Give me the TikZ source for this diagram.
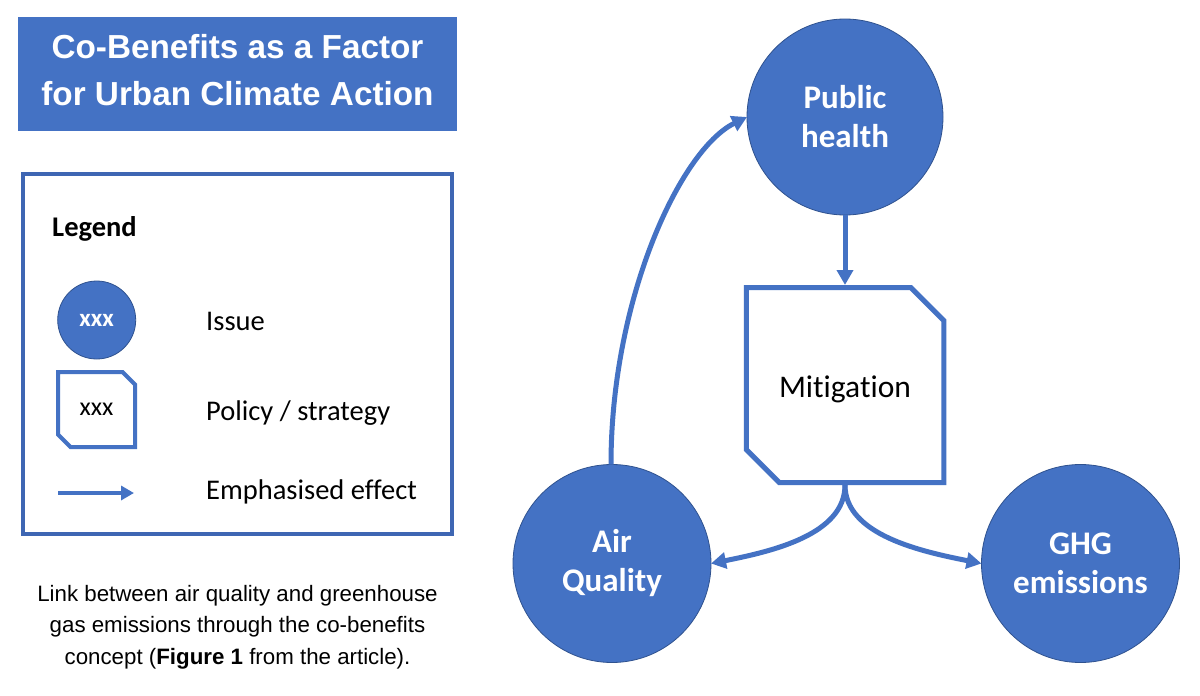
\documentclass[tikz,border=0pt]{standalone}
\usepackage{fontspec}
\setmainfont[Ligatures=CommonOff]{Carlito}
\newfontfamily\arialf{Liberation Sans}
\usetikzlibrary{arrows.meta}
\definecolor{obl}{HTML}{4472C4}
\definecolor{obd}{HTML}{2F528F}
\definecolor{lgb}{HTML}{3E66B3}
\begin{document}
\begin{tikzpicture}[x=1pt,y=-1pt,
  issue/.style={circle,fill=obl,draw=obd,line width=0.8pt,inner sep=0pt,outer sep=0pt,
    text=white,align=center,font=\fontsize{33}{39}\selectfont\bfseries},
  polbox/.style={rectangle,inner sep=0pt,outer sep=0pt,align=center},
  poloutline/.style={draw=obl,line join=miter},
  effect/.style={draw=obl,line width=5pt,-{Triangle[length=15pt,width=16pt]}},
  legtext/.style={anchor=base west,inner sep=0pt,font=\fontsize{28.5}{33}\selectfont},
]
\useasboundingbox (0,0) rectangle (1200,696);
\fill[white] (0,0) rectangle (1200,696);

% Title
\node[rectangle,fill=obl,minimum width=439pt,minimum height=114pt,inner sep=0pt] (titlebox) at (237.5,74) {};
\node[text=white,align=center,inner sep=0pt,font=\arialf\bfseries\fontsize{33.3}{47}\selectfont] (title) at (237.5,70)
  {Co-Benefits as a Factor\\for Urban Climate Action};

% Legend frame
\node[rectangle,draw=lgb,line width=4pt,minimum width=429pt,minimum height=360pt,inner sep=0pt] (legend) at (237.5,354) {};
\node[anchor=base west,inner sep=0pt,font=\fontsize{28.5}{33}\selectfont\bfseries] (legtitle) at (52,236) {Legend};

% Legend: issue
\node[issue,minimum size=78pt,font=\fontsize{25}{28}\selectfont\bfseries] (lissue) at (96.7,320) {xxx};
\node[legtext] (lissuet) at (206,330) {Issue};

% Legend: policy
\node[polbox,minimum width=77pt,minimum height=75pt,font=\fontsize{26}{28}\selectfont] (lpol) at (96.5,409.5) {xxx};
\draw[poloutline,line width=4pt] (lpol.north west) -- ([xshift=-12.5pt]lpol.north east) -- ([yshift=-12.5pt]lpol.north east)
  -- (lpol.south east) -- ([xshift=12.5pt]lpol.south west) -- ([yshift=12.5pt]lpol.south west) -- cycle;
\node[legtext] (lpolt) at (206,420) {Policy / strategy};

% Legend: effect
\coordinate (la1) at (58,493);
\coordinate (la2) at (134,493);
\draw[draw=obl,line width=4pt,-{Triangle[length=13pt,width=14pt]}] (la1) -- (la2);
\node[legtext] (lefft) at (206,499) {Emphasised effect};

% Caption
\node[align=center,inner sep=0pt,font=\arialf\fontsize{22.3}{31.5}\selectfont] (caption) at (237.5,627)
  {Link between air quality and greenhouse\\gas emissions through the co-benefits\\concept (\textbf{Figure 1} from the article).};

% Diagram
\node[issue,minimum size=196pt] (ph) at (845,117) {Public\\health};
\node[issue,minimum size=198pt] (aq) at (612,563.5) {Air\\Quality};
\node[issue,minimum size=198pt] (ghg) at (1080.5,563.5) {GHG\\emissions};

\node[polbox,minimum width=197.5pt,minimum height=195pt,text height=24pt,text depth=0pt,
  font=\fontsize{31.5}{36}\selectfont] (mit) at (845,385) {Mitigation};
\draw[poloutline,line width=5pt] (mit.north west) -- ([xshift=-33pt]mit.north east) -- ([yshift=-33pt]mit.north east)
  -- (mit.south east) -- ([xshift=33pt]mit.south west) -- ([yshift=33pt]mit.south west) -- cycle;

\draw[effect] (ph.south) -- ([yshift=2.5pt]mit.north);
\draw[effect] ([xshift=-1pt]aq.north) .. controls +(0,-165) and +(-67,33) .. (ph.west);
\draw[effect] ([yshift=-2.5pt]mit.south) .. controls +(0,50) and +(60,-12) .. (aq.east);
\draw[effect] ([yshift=-2.5pt]mit.south) .. controls +(0,50) and +(-60,-12) .. (ghg.west);
\end{tikzpicture}
\end{document}
